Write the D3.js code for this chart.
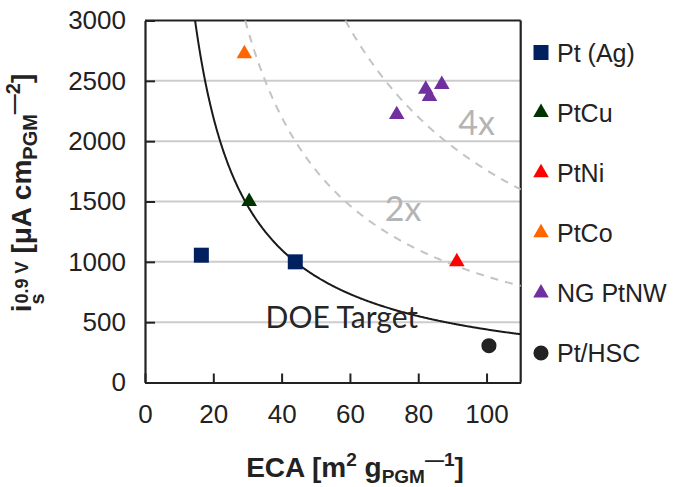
<!DOCTYPE html>
<html>
<head>
<meta charset="utf-8">
<script src="https://cdn.jsdelivr.net/npm/d3@7"></script>
<style>
  body { margin: 0; background: #fff; }
  text { font-family: "Liberation Sans", Arial, sans-serif; }
</style>
</head>
<body>
<script>
var width = 674;
var height = 487;

// ------- data --------

var seriesNames = ['Pt (Ag)', 'PtCu', 'PtNi', 'PtCo', 'NG PtNW', 'Pt/HSC'];
var seriesColors = ['#002060', '#003300', '#ff0000', '#ff6600', '#7030a0', '#222222'];
var seriesShapes = ['square', 'triangle', 'triangle', 'triangle', 'triangle', 'circle'];

// [ECA, specific activity] per series
var ptAg = [[16.5, 1055], [44, 1000]];
var ptCu = [[30.5, 1500]];
var ptNi = [[91.3, 1000]];
var ptCo = [[29.1, 2725]];
var ngPtNW = [[73.7, 2220], [82.2, 2430], [83.3, 2370], [86.9, 2470]];
var ptHSC = [[100.7, 305]];
var seriesData = [ptAg, ptCu, ptNi, ptCo, ngPtNW, ptHSC];

var xTicks = [0, 20, 40, 60, 80, 100];
var yTicks = [0, 500, 1000, 1500, 2000, 2500, 3000];

// DOE target = 440 A/g_PGM -> 44000 in (uA/cm2)*(m2/g)
var doeTarget = 44000;
var targetMultiples = [1, 2, 4];
var targetLabels = ['DOE Target', '2x', '4x'];
var targetLabelPos = [[35.3, 455], [70.2, 1335], [91.7, 2055]];

// ------- SVG --------

var svg = d3.select('body')
    .append('svg')
    .attr('width', width)
    .attr('height', height);

var x = d3.scaleLinear().domain([0, 110]).range([145, 520.7]);
var y = d3.scaleLinear().domain([0, 3000]).range([382.5, 20.5]);

// gridlines
svg.append('g').selectAll('line')
    .data(yTicks.slice(1, -1))
    .enter()
    .append('line')
    .attr('x1', x(0)).attr('x2', x(110))
    .attr('y1', function(d) { return y(d); })
    .attr('y2', function(d) { return y(d); })
    .attr('stroke', '#cccccc')
    .attr('stroke-width', 2);

// axes (ticks pointing inward)
var xAxis = svg.append('g')
    .attr('transform', 'translate(0,' + y(0) + ')')
    .call(d3.axisBottom(x).tickValues(xTicks).tickSize(-9).tickPadding(22).tickSizeOuter(0));
var yAxis = svg.append('g')
    .attr('transform', 'translate(' + x(0) + ',0)')
    .call(d3.axisLeft(y).tickValues(yTicks).tickFormat(d3.format('d'))
        .tickSize(-10).tickPadding(19).tickSizeOuter(0));

[xAxis, yAxis].forEach(function(a) {
    a.select('.domain').attr('stroke', '#222').attr('stroke-width', 2.2);
    a.selectAll('.tick line').attr('stroke', '#222').attr('stroke-width', 2);
    a.selectAll('.tick text').style('font-size', '26px').style('fill', '#222');
});
xAxis.selectAll('.tick text').attr('dy', '0.71em');

// top and right frame
svg.append('line')
    .attr('x1', x(0)).attr('x2', x(110)).attr('y1', y(3000)).attr('y2', y(3000))
    .attr('stroke', '#222').attr('stroke-width', 2.2);
svg.append('line')
    .attr('x1', x(110)).attr('x2', x(110)).attr('y1', y(3000)).attr('y2', y(0))
    .attr('stroke', '#222').attr('stroke-width', 2.2);

// target curves i = k / ECA
var line = d3.line()
    .x(function(d) { return x(d[0]); })
    .y(function(d) { return y(d[1]); });

targetMultiples.forEach(function(m, i) {
    var k = doeTarget * m;
    var pts = d3.range(k / 3000, 110.001, 0.25).map(function(e) { return [e, k / e]; });
    pts.push([110, k / 110]);
    svg.append('path')
        .datum(pts)
        .attr('d', line)
        .attr('fill', 'none')
        .attr('stroke', i === 0 ? '#1a1a1a' : '#c4c4c4')
        .attr('stroke-width', 2)
        .attr('stroke-dasharray', i === 0 ? null : '8,7');
    svg.append('text')
        .attr('x', x(targetLabelPos[i][0]))
        .attr('y', y(targetLabelPos[i][1]))
        .style('font-family', 'Lato, "Open Sans", sans-serif')
        .style('font-size', i === 0 ? '30px' : '34px')
        .style('fill', i === 0 ? '#262626' : '#b4b4b4')
        .text(targetLabels[i]);
});

// markers
function symbolFor(shape) {
    if (shape === 'square') return d3.symbol().type(d3.symbolSquare).size(225);
    if (shape === 'triangle') return d3.symbol().type(d3.symbolTriangle).size(105);
    return d3.symbol().type(d3.symbolCircle).size(180);
}

seriesData.forEach(function(data, i) {
    svg.append('g').selectAll('path')
        .data(data)
        .enter()
        .append('path')
        .attr('transform', function(d) { return 'translate(' + x(d[0]) + ',' + y(d[1]) + ')'; })
        .attr('d', symbolFor(seriesShapes[i]))
        .attr('fill', seriesColors[i]);
});

// legend
var legend = svg.append('g').selectAll('g')
    .data(seriesNames)
    .enter()
    .append('g')
    .attr('transform', function(d, i) { return 'translate(541,' + (52.5 + i * 60.1) + ')'; });

legend.append('path')
    .attr('d', function(d, i) { return symbolFor(seriesShapes[i])(); })
    .attr('fill', function(d, i) { return seriesColors[i]; });

legend.append('text')
    .attr('x', 16)
    .attr('dy', '0.36em')
    .style('font-size', '25px')
    .style('fill', '#222')
    .text(function(d) { return d; });

// x label
var xl = svg.append('text')
    .attr('x', 355)
    .attr('y', 477)
    .attr('text-anchor', 'middle')
    .style('font-size', '28px')
    .style('font-weight', 'bold')
    .style('fill', '#222');
xl.append('tspan').text('ECA [m');
xl.append('tspan').attr('dy', -11).style('font-size', '19px').text('2');
xl.append('tspan').attr('dy', 11).text(' g');
xl.append('tspan').attr('dy', 6).style('font-size', '19px').text('PGM');
xl.append('tspan').attr('dy', -17).style('font-size', '19px').text('—1');
xl.append('tspan').attr('dy', 11).text(']');

// y label
var yl = svg.append('text')
    .attr('transform', 'translate(41,193) rotate(-90)')
    .attr('text-anchor', 'middle')
    .style('font-size', '28px')
    .style('font-weight', 'bold')
    .style('fill', '#222');
yl.append('tspan').attr('dy', -10).text('i');
yl.append('tspan').attr('dy', 13).style('font-size', '20px').text('s');
yl.append('tspan').attr('dx', -10).attr('dy', -16).style('font-size', '18px').text('0.9 V');
yl.append('tspan').attr('dy', 3).text(' [μA cm');
yl.append('tspan').attr('dy', 6).style('font-size', '20px').text('PGM');
yl.append('tspan').attr('dy', -17).style('font-size', '20px').text('—2');
yl.append('tspan').attr('dy', 11).text(']');
</script>
</body>
</html>
